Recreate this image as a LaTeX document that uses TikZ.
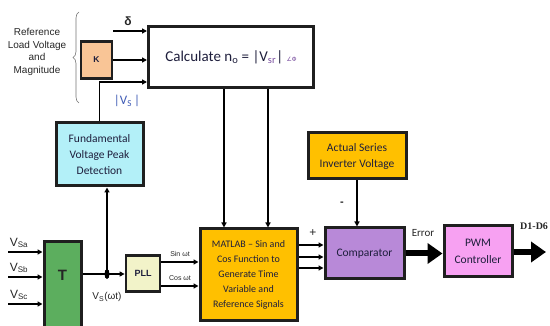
\documentclass[tikz,border=0pt]{standalone}
\usepackage{fontspec}
\setmainfont{Carlito}
\newfontfamily\arialf{Liberation Sans}
\newfontfamily\seriff{Liberation Serif}
\newfontfamily\djv{DejaVu Sans}
\usetikzlibrary{arrows.meta,decorations.pathreplacing,shapes.geometric}
\definecolor{kpeach}{HTML}{F9C596}
\definecolor{fcyan}{HTML}{B3F0F8}
\definecolor{tgreen}{HTML}{5CAE5E}
\definecolor{pllyel}{HTML}{F2F3C9}
\definecolor{morange}{HTML}{FFC000}
\definecolor{cpurple}{HTML}{B889D8}
\definecolor{ppink}{HTML}{F7A1F2}
\definecolor{vsblue}{HTML}{3F5BB5}
\definecolor{srpurple}{HTML}{7A4FA0}
\definecolor{txt}{HTML}{1E1E3C}
\begin{document}
\begin{tikzpicture}[x=1pt,y=-1pt,
  blk/.style={draw=black!88,line width=3pt,align=center,text=txt,inner sep=1pt},
  arr/.style={line width=1.2pt,-{Triangle[length=5pt,width=5pt]}},
  ln/.style={line width=1.2pt},
  bigarr/.style={line width=6pt,-{Triangle[length=15pt,width=20pt]}},
  lab/.style={inner sep=0pt,text=black!85}]
\useasboundingbox (0,0) rectangle (550,326);

% Calculate box
\node[blk, fill=white, minimum width=165, minimum height=61] (calc) at (231,57)
  {\fontsize{15}{18}\selectfont Calculate n\textsubscript{o} = |V\textsubscript{\color{srpurple}sr}| {\djv\fontsize{6}{7}\selectfont\color{srpurple}∠Φ}};

% brace and reference text
\draw[decorate,decoration={brace,amplitude=6pt},line width=0.6pt,black!55] (79,103) -- (79,12);
\node[lab, align=center, font=\arialf\fontsize{10}{12.5}\selectfont] (ref) at (37,52) {Reference\\Load Voltage\\and\\Magnitude};

% K
\node[blk, fill=kpeach, minimum width=31, minimum height=37, line width=2.8pt, font=\arialf\bfseries\fontsize{8.5}{9}\selectfont] (K) at (96.5,60) {K};
\draw[arr] (K.east) -- (K.east -| calc.west);

% delta input
\coordinate (d0) at (113,31);
\draw[arr] (d0) -- (d0 -| calc.west);
\node[lab, font=\arialf\bfseries\fontsize{12}{13}\selectfont] (dl) at (128,21) {δ};

% Fundamental
\node[blk, fill=fcyan, minimum width=87, minimum height=63, font=\fontsize{11.5}{16}\selectfont] (fund) at (99.5,154.5) {Fundamental\\Voltage Peak\\Detection};
\coordinate (vs) at (0,82);
\draw[arr] (fund.north) |- (calc.west |- vs);
\node[lab, text=vsblue, font=\fontsize{13}{14}\selectfont] (vsl) at (127,101) {|V\textsubscript{S}\,|};

% T block
\node[blk, fill=tgreen, minimum width=37, minimum height=95, anchor=north] (T) at (62.5,240) {};
\node[lab, font=\arialf\bfseries\fontsize{15}{16}\selectfont] (Tl) at (62.5,275) {T};
\foreach \n/\y/\s in {a/252/Sa, b/277/Sb, c/304/Sc} {
  \coordinate (in\n) at (8,\y);
  \draw[arr] (in\n) -- (in\n -| T.west);
  \node[lab, font=\arialf\fontsize{12}{13}\selectfont] (l\n) at (19,\y-9) {V\textsubscript{\s}};
}

% PLL and junction
\node[blk, fill=pllyel, minimum width=34, minimum height=36, line width=2.8pt, font=\arialf\bfseries\fontsize{9}{10}\selectfont] (PLL) at (143,273.5) {PLL};
\node[ellipse, fill=black, minimum width=5, minimum height=10, inner sep=0pt] (J) at (107,274) {};
\draw[arr] (T.east |- J) -- (J -| PLL.west);
\draw[arr] (J.center) -- (J |- fund.south);
\node[lab, font=\arialf\fontsize{10}{11}\selectfont] (vsw) at (107,297) {V\textsubscript{S}(ωt)};

% MATLAB
\node[blk, fill=morange, minimum width=97, minimum height=92, font=\fontsize{10}{15}\selectfont] (mat) at (248.5,275) {MATLAB – Sin and\\Cos Function to\\Generate Time\\Variable and\\Reference Signals};
\coordinate (s0) at (0,262);
\coordinate (c0) at (0,286);
\draw[arr] (PLL.east |- s0) -- (mat.west |- s0);
\draw[arr] (PLL.east |- c0) -- (mat.west |- c0);
\node[lab, font=\arialf\fontsize{7}{8}\selectfont] (sl) at (180,254) {Sin ωt};
\node[lab, font=\arialf\fontsize{7}{8}\selectfont] (cl) at (180,278) {Cos ωt};

\coordinate (x1) at (224,0);
\coordinate (x2) at (268,0);
\draw[arr] (x1 |- calc.south) -- (x1 |- mat.north);
\draw[arr] (x2 |- calc.south) -- (x2 |- mat.north);

% Actual series & comparator
\node[blk, fill=morange, minimum width=98, minimum height=46, font=\fontsize{11.5}{16}\selectfont] (act) at (357,156) {Actual Series\\Inverter Voltage};
\node[blk, fill=cpurple, minimum width=79, minimum height=51, font=\fontsize{11.5}{14}\selectfont] (comp) at (364.5,253.5) {Comparator};
\draw[arr] (act.south) -- (act.south |- comp.north);
\node[lab, font=\arialf\bfseries\fontsize{11}{12}\selectfont] (minus) at (342,204) {-};
\node[lab, font=\arialf\fontsize{12}{13}\selectfont] (plus) at (313,233) {+};
\foreach \y/\k in {245/1,257/2,268/3} {
  \coordinate (m\k) at (0,\y);
  \draw[arr] (mat.east |- m\k) -- (comp.west |- m\k);
}

% PWM
\node[blk, fill=ppink, minimum width=68, minimum height=51, font=\fontsize{11.5}{17}\selectfont] (pwm) at (478,251.5) {PWM\\Controller};
\draw[bigarr] (comp.east) -- (comp.east -| pwm.west);
\node[lab, font=\fontsize{11}{12}\selectfont] (err) at (423,233) {Error};
\coordinate (out) at (546,252);
\draw[bigarr] (pwm.east |- out) -- (out);
\node[lab, anchor=west, font=\seriff\bfseries\fontsize{10}{11}\selectfont] (dd) at (520,226) {D1-D6};
\end{tikzpicture}
\end{document}
